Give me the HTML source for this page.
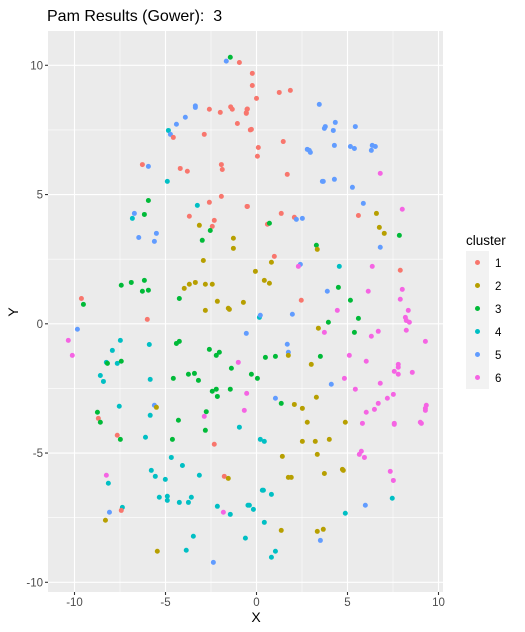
<!DOCTYPE html>
<html><head><meta charset="utf-8">
<style>
body{margin:0;background:#fff;font-family:"Liberation Sans",Arial,sans-serif;}
svg{display:block}
</style></head>
<body>
<svg id="chart" width="525" height="632" xmlns="http://www.w3.org/2000/svg">
  <rect width="525" height="632" fill="#fff"/>
  <text x="47" y="21" font-size="16" fill="#000" xml:space="preserve">Pam Results (Gower):  3</text>
  <rect x="48" y="31" width="395" height="561" fill="#EBEBEB"/>
  <g id="grid"></g>
  <g id="points"></g>
  <g id="axes"></g>
  <text x="256" y="622" font-size="14" text-anchor="middle">X</text>
  <text transform="translate(18,312) rotate(-90)" font-size="14" text-anchor="middle">Y</text>
  <g id="legend">
    <text x="466" y="245" font-size="13.5">cluster</text>
  </g>
</svg>
<script>
const xTicks=[-10,-5,0,5,10];
const yTicks=[-10,-5,0,5,10];
const xMinor=[-7.5,-2.5,2.5,7.5];
const yMinor=[-7.5,-2.5,2.5,7.5];
const clusterLabels=["1","2","3","4","5","6"];
const colors=["#F8766D","#B79F00","#00BA38","#00BFC4","#619CFF","#F564E3"];
const xs=[-1.44,-1.66,-0.94,-3.36,-3.36,-2.59,-1.99,-1.42,-1.33,-0.52,-0.56,-1.05,-3.91,-4.40,-4.84,-4.73,-4.57,-2.87,-6.27,-5.94,-4.19,-3.80,-1.93,-1.88,-4.90,-5.94,-1.93,-2.59,-0.52,-3.25,-6.71,-6.16,-6.82,-3.69,-2.32,-2.43,-3.14,-2.54,-5.50,-6.47,-5.61,-2.98,-1.27,-1.27,-2.92,-6.16,-6.88,-7.43,-6.27,-5.94,-3.97,-3.69,-3.36,-2.81,-2.43,-4.24,-9.62,-9.51,-2.15,-1.55,-1.49,-0.72,-2.81,-6.0,
-0.23,-0.23,1.25,1.86,0,-0.50,-0.56,-0.34,-0.28,3.45,4.33,3.78,3.73,4.22,5.43,1.47,0.10,0.05,4.28,2.79,2.90,2.96,5.16,5.38,6.36,6.53,6.31,1.69,6.80,3.62,3.67,4.28,5.27,-0.50,5.87,1.36,2.08,2.19,2.52,5.60,6.59,8.01,0.60,0.71,6.75,7.02,7.85,3.29,3.34,6.80,0.98,0.82,-0.06,2.41,2.30,4.55,6.36,7.90,0.43,0.71,3.89,4.50,6.14,8.01,2.46,5.16,7.90,1.97,4.44,8.34,0.16,0.21,5.60,8.18,
-9.84,-10.34,-10.12,-7.48,-7.92,-5.89,-4.40,-4.24,-2.59,-2.21,-2.04,-8.25,-8.19,-7.65,-7.43,-1.38,-1.00,-8.58,-8.41,-5.84,-4.57,-3.74,-3.41,-3.19,-2.43,-2.21,-2.15,-1.44,-0.54,-7.54,-5.61,-5.50,-8.74,-8.69,-8.58,-5.84,-4.29,-2.87,-2.76,-0.67,-2.81,-0.94,-7.65,-7.48,-6.10,-4.62,-2.32,-4.68,-4.07,-8.25,-5.78,-5.56,-8.14,-5.01,-3.14,-1.77,-1.55,-5.34,-4.90,-4.90,-4.24,-3.74,-3.58,-2.15,-1.82,-1.44,-0.47,-8.08,-7.37,-7.43,-8.30,-0.61,-3.47,-3.86,-5.45,-2.37,
3.95,8.23,8.40,3.40,3.73,5.38,6.69,6.31,8.23,9.28,-0.56,1.69,1.75,1.75,0.49,1.04,3.51,3.01,5.10,6.03,7.57,7.79,7.79,7.79,8.56,-0.28,0.05,4.83,4.11,6.80,5.43,1.04,1.36,2.08,2.52,3.29,7.19,7.52,6.69,6.48,6.03,9.33,9.28,9.28,2.79,4.88,5.82,7.57,7.57,9.00,9.06,0.21,0.43,2.52,3.23,4.0,1.42,3.34,5.65,5.76,5.93,7.35,7.52,1.75,1.91,3.73,4.72,4.77,0.32,0.38,0.82,7.46,-0.39,-0.17,5.98,4.88,0.43,1.36,3.34,3.67,3.51,1.04,0.82];
const ys=[10.31,10.16,10.11,8.37,8.43,8.30,8.18,8.39,8.30,8.30,8.14,7.75,7.99,7.72,7.48,7.33,7.21,7.33,6.16,6.09,6.01,5.90,6.16,5.97,5.51,4.77,4.93,4.70,4.54,4.58,4.27,4.23,4.08,4.16,4.00,3.77,3.81,3.61,3.50,3.34,3.19,3.23,3.31,2.92,2.45,1.68,1.60,1.49,1.26,1.30,1.37,1.53,1.60,1.53,1.53,0.98,0.98,0.75,0.87,0.60,0.56,0.83,0.52,0.17,
9.69,9.22,8.95,9.03,8.72,8.31,8.17,7.50,7.52,8.49,7.79,7.63,7.56,7.48,7.63,7.05,6.82,6.48,6.90,6.75,6.71,6.63,6.86,6.78,6.90,6.86,6.71,5.78,5.82,5.51,5.51,5.59,5.28,4.54,4.66,4.27,4.12,4.04,4.08,4.19,4.27,4.43,3.85,3.89,3.73,3.50,3.42,3.04,2.88,2.96,2.61,2.38,2.03,2.30,2.22,2.22,2.22,2.07,1.68,1.57,1.26,1.41,1.26,1.33,0.91,0.91,0.95,0.37,0.52,0.52,0.25,0.33,0.21,0.25,
-0.21,-0.64,-1.22,-0.64,-1.03,-0.80,-0.76,-0.68,-0.99,-1.22,-1.10,-1.49,-1.53,-1.53,-1.45,-1.72,-1.49,-2.00,-2.23,-2.15,-2.11,-1.95,-1.92,-2.19,-2.61,-2.53,-2.81,-2.53,-2.69,-3.19,-3.15,-3.23,-3.42,-3.66,-3.81,-3.54,-3.73,-3.58,-3.40,-3.35,-4.12,-4.00,-4.31,-4.47,-4.39,-4.47,-4.66,-5.17,-5.48,-5.86,-5.67,-5.90,-6.17,-6.02,-5.86,-5.90,-5.98,-6.71,-6.67,-6.83,-6.91,-6.91,-6.71,-7.06,-7.29,-7.37,-7.02,-7.29,-7.10,-7.22,-7.60,-8.29,-8.22,-8.76,-8.80,-9.23,
0.06,0.13,0.06,-0.17,-0.33,-0.33,-0.29,-0.48,-0.25,-0.68,-0.37,-0.79,-1.10,-1.22,-1.30,-1.26,-1.26,-1.57,-1.22,-1.45,-1.84,-1.57,-1.68,-1.95,-1.88,-1.95,-2.11,-2.11,-2.34,-2.30,-2.53,-2.88,-3.08,-3.12,-3.27,-2.84,-2.88,-2.73,-3.08,-3.31,-3.42,-3.15,-3.27,-3.35,-3.81,-3.81,-3.85,-3.85,-3.89,-3.81,-3.85,-4.47,-4.55,-4.55,-4.55,-4.47,-5.13,-5.05,-5.05,-4.93,-5.17,-5.71,-6.06,-5.94,-5.94,-5.79,-5.63,-5.67,-6.44,-6.44,-6.60,-6.75,-7.02,-7.18,-7.02,-7.33,-7.68,-7.99,-8.03,-7.95,-8.38,-8.80,-9.03];
const cl=[3,5,1,5,5,1,1,1,1,1,1,1,5,5,4,5,1,1,1,5,1,1,1,1,4,3,1,1,1,4,5,3,4,1,1,1,2,3,5,5,5,3,2,2,2,3,3,3,3,3,2,2,2,2,2,3,1,3,2,2,2,2,2,1,
1,1,1,1,1,1,1,1,1,5,5,5,5,5,5,1,1,1,5,5,5,5,5,5,5,5,5,1,6,5,5,5,5,1,5,1,1,5,5,1,2,6,1,3,2,2,3,3,2,5,1,2,2,5,6,4,6,1,2,2,5,3,6,6,1,3,6,5,6,6,4,5,3,6,
5,6,6,4,4,4,3,3,3,3,3,4,3,4,3,3,6,4,4,4,3,3,3,3,3,3,3,3,6,4,5,2,3,1,3,4,3,6,3,6,3,4,1,3,4,3,1,4,4,6,4,4,4,4,4,1,2,4,4,4,4,4,4,4,6,4,4,5,4,1,2,4,4,4,2,5,
3,6,6,2,6,3,6,6,6,6,5,5,5,2,3,3,3,2,6,6,6,6,6,6,6,3,3,6,5,6,6,5,3,2,2,2,6,6,6,6,6,6,6,6,2,2,6,6,6,6,6,4,4,2,2,2,2,2,6,6,6,6,6,2,2,2,2,2,4,4,4,4,4,4,5,4,4,2,2,2,5,4,4];

const NS="http://www.w3.org/2000/svg";
const X0=48,X1=443,Y0=31,Y1=592;
function sx(v){return 256.5+18.2*v;}
function sy(v){return 323.8-25.85*v;}
const grid=document.getElementById('grid');
function line(g,x1,y1,x2,y2,stroke,w){const l=document.createElementNS(NS,'line');l.setAttribute('x1',x1);l.setAttribute('y1',y1);l.setAttribute('x2',x2);l.setAttribute('y2',y2);l.setAttribute('stroke',stroke);l.setAttribute('stroke-width',w);g.appendChild(l);return l;}
xMinor.forEach(v=>{const l=line(grid,sx(v),Y0,sx(v),Y1,'#fff',0.55);

});
yMinor.forEach(v=>{const l=line(grid,X0,sy(v),X1,sy(v),'#fff',0.55);

});
xTicks.forEach(v=>{const l=line(grid,sx(v),Y0,sx(v),Y1,'#fff',1.1);

});
yTicks.forEach(v=>{const l=line(grid,X0,sy(v),X1,sy(v),'#fff',1.1);

});
const axes=document.getElementById('axes');
xTicks.forEach(v=>{const t=line(axes,sx(v),Y1,sx(v),Y1+3,'#333',1.1);


const tx=document.createElementNS(NS,'text');tx.setAttribute('x',sx(v));tx.setAttribute('y',Y1+14);tx.setAttribute('font-size','11.5');tx.setAttribute('fill','#4D4D4D');tx.setAttribute('text-anchor','middle');tx.textContent=v;


axes.appendChild(tx);});
yTicks.forEach(v=>{const t=line(axes,X0-3,sy(v),X0,sy(v),'#333',1.1);


const tx=document.createElementNS(NS,'text');tx.setAttribute('x',X0-5);tx.setAttribute('y',sy(v)+4);tx.setAttribute('font-size','11.5');tx.setAttribute('fill','#4D4D4D');tx.setAttribute('text-anchor','end');tx.textContent=v;


axes.appendChild(tx);});
const pts=document.getElementById('points');
for(let i=0;i<xs.length;i++){const c=document.createElementNS(NS,'circle');c.setAttribute('cx',sx(xs[i]));c.setAttribute('cy',sy(ys[i]));c.setAttribute('r',2.5);c.setAttribute('fill',colors[cl[i]-1]);


pts.appendChild(c);}
const lg=document.getElementById('legend');
clusterLabels.forEach((lab,i)=>{const y=251+i*23;
const r=document.createElementNS(NS,'rect');r.setAttribute('x',466);r.setAttribute('y',y);r.setAttribute('width',23);r.setAttribute('height',23);r.setAttribute('fill','#F2F2F2');


lg.appendChild(r);
const c=document.createElementNS(NS,'circle');c.setAttribute('cx',477.5);c.setAttribute('cy',y+11.5);c.setAttribute('r',2.5);c.setAttribute('fill',colors[i]);


lg.appendChild(c);
const t=document.createElementNS(NS,'text');t.setAttribute('x',495);t.setAttribute('y',y+16);t.setAttribute('font-size','11.5');t.textContent=lab;


lg.appendChild(t);});
</script>
</body></html>
